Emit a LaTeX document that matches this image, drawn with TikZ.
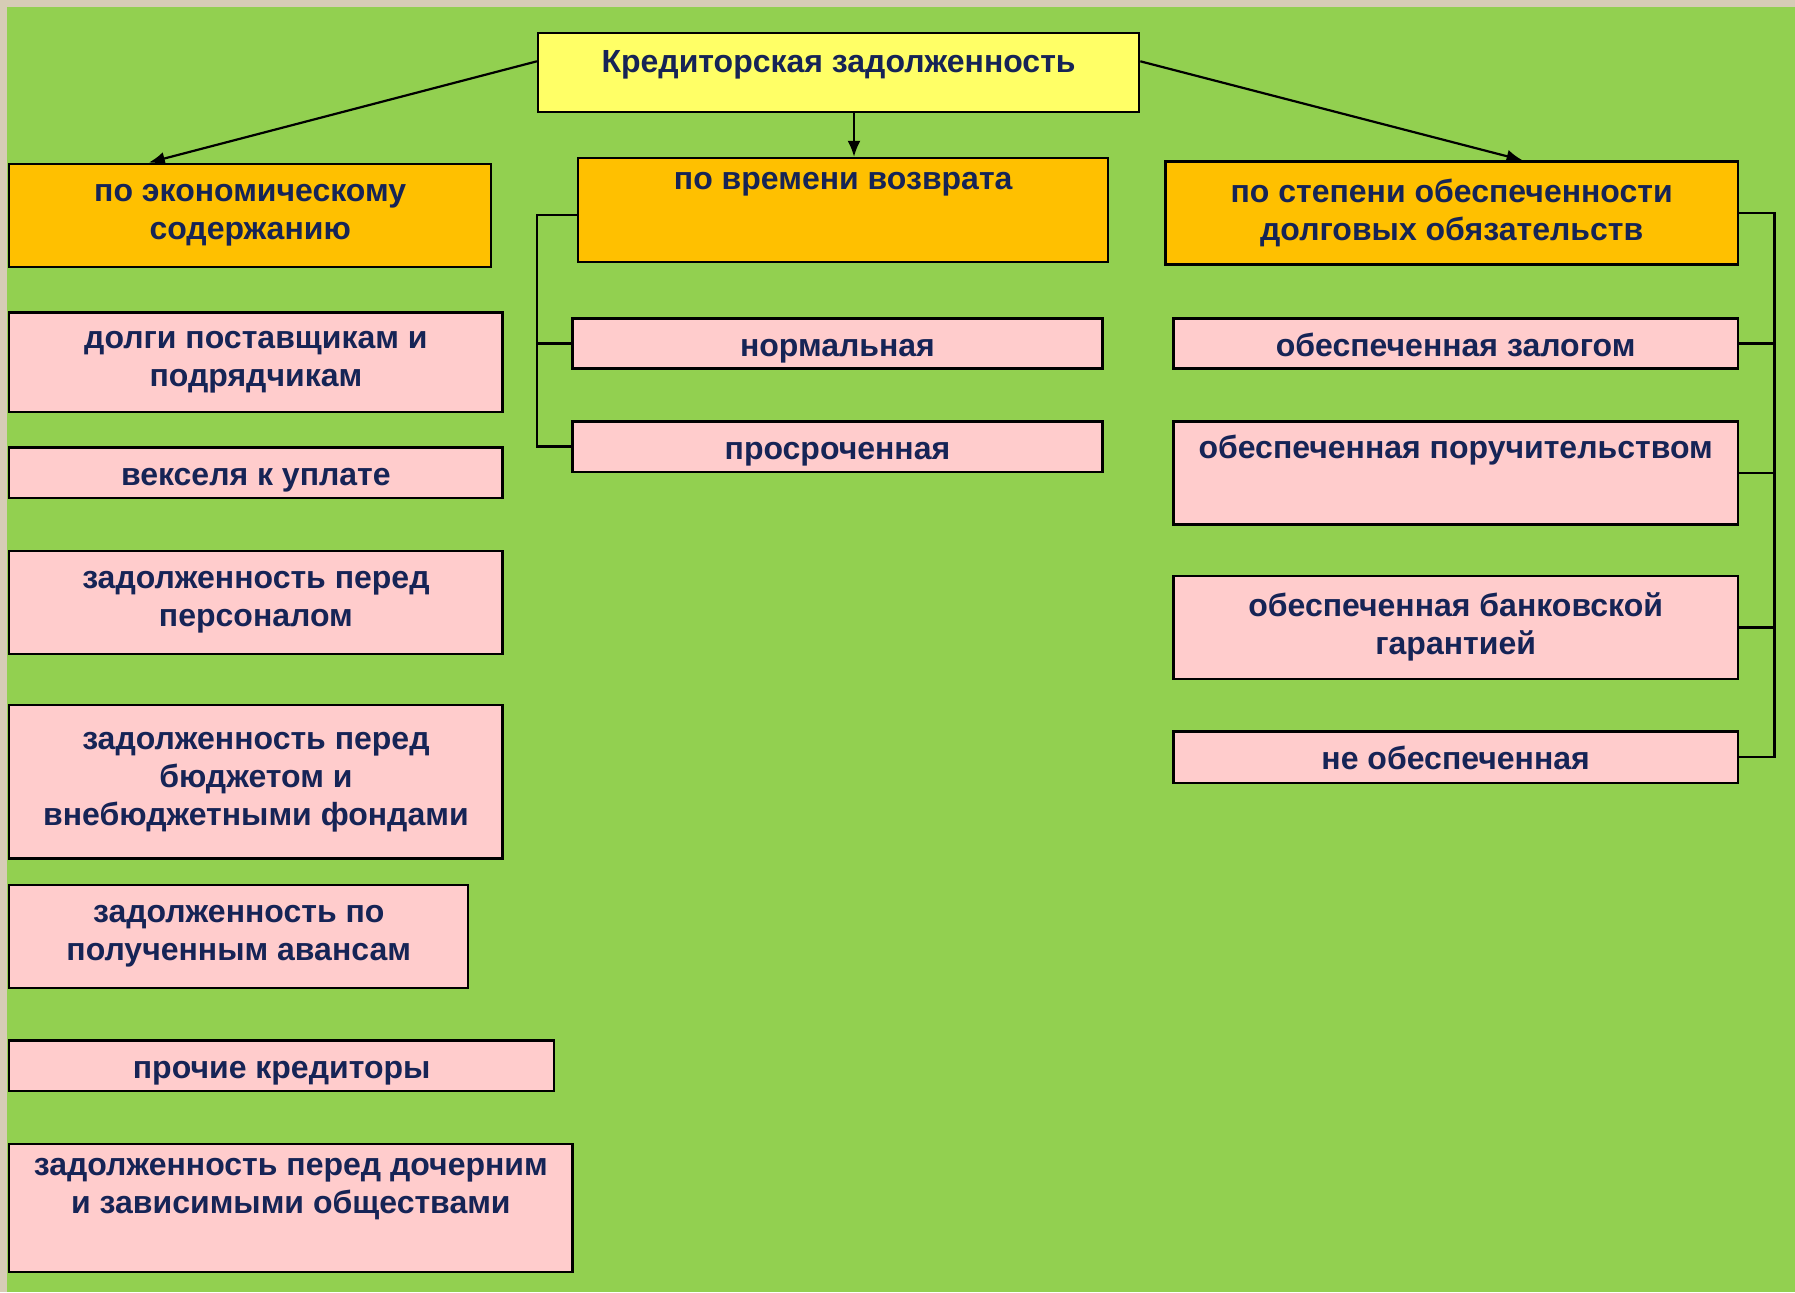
\documentclass[tikz,border=0pt]{standalone}
\usepackage{fontspec}
\setmainfont{Liberation Sans}
\usepackage{tikz}
\usetikzlibrary{arrows.meta}
\usetikzlibrary{calc}
\usetikzlibrary{positioning}

\definecolor{bggreen}{RGB}{146,208,80}
\definecolor{bgbeige}{RGB}{214,204,182}
\definecolor{rootyellow}{RGB}{255,255,102}
\definecolor{grouporange}{RGB}{255,192,0}
\definecolor{itempink}{RGB}{255,204,204}
\definecolor{textnavy}{RGB}{22,36,86}

\def\un{0.5724pt}

\tikzset{
  box/.style={draw=black, line width=1.2pt, anchor=north west, inner sep=0pt,
    align=center, text=textnavy, font=\bfseries\fontsize{16}{19}\selectfont},
  rootbox/.style={box, fill=rootyellow},
  groupbox/.style={box, fill=grouporange},
  itembox/.style={box, fill=itempink},
  oneline/.style={text height=14pt, text depth=1.4pt},
  toplbl/.style={anchor=north, inner sep=0pt, yshift=-13*\un, align=center,
    text=textnavy, font=\bfseries\fontsize{16}{19}\selectfont},
  conn/.style={draw=black, line width=1.1pt},
  arr/.style={conn, -{Latex[length=8pt,width=6.5pt]}}
}

\begin{document}
\begin{tikzpicture}[x=\un, y=-\un]
        \useasboundingbox (0,0) rectangle (1568,1129);
        \fill[bgbeige] (0,0) rectangle (1568,1129);
        \fill[bggreen] (6,6) rectangle (1568,1129);

        \node[rootbox, minimum width=525*\un, minimum height=69*\un,
              text height=8pt, text depth=8pt] (root) at (469,28) {Кредиторская задолженность};

        % groups
        \node[groupbox, minimum width=421*\un, minimum height=90*\un] (econ) at (7,142) {по экономическому\\содержанию};
        \node[groupbox, minimum width=463*\un, minimum height=91*\un,
              label={[toplbl]north:по времени возврата}] (vozvrat) at (504,137) {};
        \node[groupbox, minimum width=500*\un, minimum height=90*\un] (obesp) at (1017,140) {по степени обеспеченности\\долговых обязательств};

        % left column
        \node[itembox, minimum width=431*\un, minimum height=87*\un] (dolgi) at (7,272) {долги поставщикам и\\подрядчикам};
        \node[itembox, oneline, minimum width=431*\un, minimum height=44*\un] (veksel) at (7,390) {векселя к уплате};
        \node[itembox, minimum width=431*\un, minimum height=90*\un] (personal) at (7,480) {задолженность перед\\персоналом};
        \node[itembox, minimum width=431*\un, minimum height=134*\un] (budget) at (7,615) {задолженность перед\\бюджетом и\\внебюджетными фондами};
        \node[itembox, minimum width=401*\un, minimum height=90*\un] (avans) at (7,772) {задолженность по\\полученным авансам};
        \node[itembox, oneline, minimum width=476*\un, minimum height=44*\un] (prochie) at (7,908) {прочие кредиторы};
        \node[itembox, minimum width=492*\un, minimum height=112*\un,
              label={[toplbl]north:задолженность перед дочерним\\и зависимыми обществами}] (dochern) at (7,998) {};

        % middle column
        \node[itembox, oneline, minimum width=463*\un, minimum height=44*\un] (normal) at (499,277) {нормальная};
        \node[itembox, oneline, minimum width=463*\un, minimum height=44*\un] (prosroch) at (499,367) {просроченная};

        % right column
        \node[itembox, oneline, minimum width=493*\un, minimum height=44*\un] (zalog) at (1024,277) {обеспеченная залогом};
        \node[itembox, minimum width=493*\un, minimum height=90*\un,
              label={[toplbl]north:обеспеченная поручительством}] (poruch) at (1024,367) {};
        \node[itembox, minimum width=493*\un, minimum height=90*\un] (bank) at (1024,502) {обеспеченная банковской\\гарантией};
        \node[itembox, oneline, minimum width=493*\un, minimum height=45*\un] (neobesp) at (1024,638) {не обеспеченная};

        % arrows from the root
        \coordinate (econin) at (130,142);
        \coordinate (vozin) at (746,137);
        \coordinate (obin) at (1330,140);
        \draw[arr] ($(root.west)+(0,-10)$) -- (econin);
        \draw[arr] (vozin |- root.south) -- (vozin);
        \draw[arr] ($(root.east)+(0,-10)$) -- (obin);

        % brackets
        \draw[conn] ($(vozvrat.west)+(0,4)$) -- ++(-35,0) |- (prosroch.west);
        \draw[conn] (normal.west) -- ++(-30,0);

        \draw[conn] (obesp.east) -- ++(31,0) |- (neobesp.east);
        \foreach \n in {zalog, poruch, bank}
            \draw[conn] (\n.east) -- ++(31,0);

    \end{tikzpicture}
\end{document}
